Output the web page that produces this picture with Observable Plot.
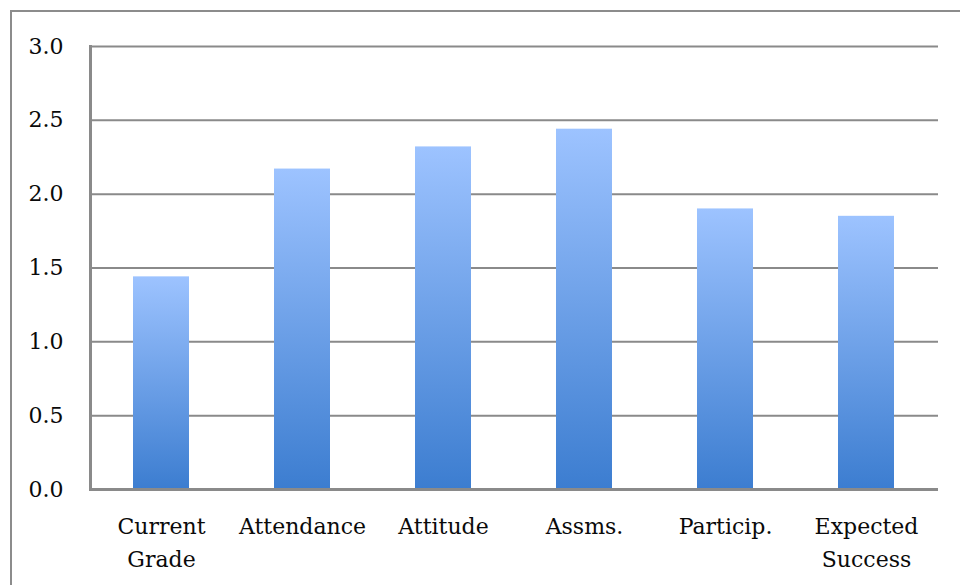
<!DOCTYPE html>
<html>
<head>
<meta charset="utf-8">
<script src="https://cdn.jsdelivr.net/npm/d3@7"></script>
<script src="https://cdn.jsdelivr.net/npm/@observablehq/plot@0.6"></script>
<style>
  html, body { margin: 0; padding: 0; background: #fff; }
  #wrap { position: relative; width: 960px; height: 585px; overflow: hidden; }
  #border { position: absolute; left: 10px; top: 10px; width: 1000px; height: 1000px; border: 2px solid #8c8c8c; box-sizing: border-box; pointer-events: none; }
  #chart { position: absolute; left: 0; top: 0; }
</style>
</head>
<body>
<div id="wrap"><div id="chart"></div><div id="border"></div></div>
<script>
const categories = ["Current\nGrade", "Attendance", "Attitude", "Assms.", "Particip.", "Expected\nSuccess"];
const values = [1.44, 2.17, 2.32, 2.44, 1.90, 1.85];
const yTicks = [0, 0.5, 1.0, 1.5, 2.0, 2.5, 3.0];

const data = categories.map((c, i) => ({category: c, value: values[i]}));

const chart = Plot.plot({
  width: 960,
  height: 585,
  marginLeft: 90,
  marginRight: 22,
  marginTop: 46,
  marginBottom: 96,
  style: {fontFamily: "'DejaVu Serif', serif", fontSize: "22px", color: "#0a0a0a", background: "#fff"},
  x: {domain: categories, paddingInner: 0.6, paddingOuter: 0.3, label: null},
  y: {domain: [0, 3], ticks: yTicks, label: null},
  marks: [
    Plot.gridY(yTicks, {stroke: "#8a8a8a", strokeOpacity: 1, strokeWidth: 2}),
    Plot.barY(data, {x: "category", y: "value", fill: "url(#barGrad)", style: {filter: "drop-shadow(1px 1px 2px rgba(0,0,0,0.25))"}}),
    Plot.frame({anchor: "left", stroke: "#8a8a8a", strokeWidth: 3}),
    Plot.ruleY([0], {stroke: "#8a8a8a", strokeWidth: 3}),
    Plot.axisY(yTicks, {tickSize: 0, tickPadding: 27, tickFormat: d3.format(".1f"), fontSize: 22}),
    Plot.axisX({tickSize: 0, tickPadding: 22, fontSize: 22, lineHeight: 1.47})
  ]
});

const ns = "http://www.w3.org/2000/svg";
const defs = document.createElementNS(ns, "defs");
const grad = document.createElementNS(ns, "linearGradient");
grad.setAttribute("id", "barGrad");
grad.setAttribute("x1", "0"); grad.setAttribute("y1", "0");
grad.setAttribute("x2", "0"); grad.setAttribute("y2", "1");
[["0%", "#9dc3ff"], ["100%", "#3c7dd0"]].forEach(([o, c]) => {
  const s = document.createElementNS(ns, "stop");
  s.setAttribute("offset", o); s.setAttribute("stop-color", c);
  grad.appendChild(s);
});
defs.appendChild(grad);
chart.insertBefore(defs, chart.firstChild);

document.getElementById("chart").appendChild(chart);
</script>
</body>
</html>
